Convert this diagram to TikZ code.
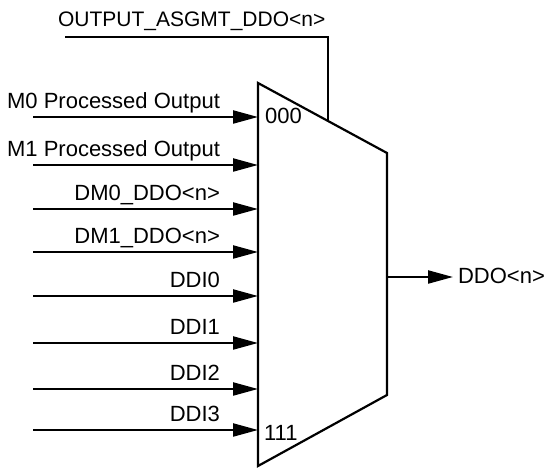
\documentclass[tikz,border=0pt]{standalone}
\usepackage{fontspec}
\setmainfont{Liberation Sans}
\usetikzlibrary{arrows.meta,calc}
\begin{document}
\begin{tikzpicture}[x=1pt,y=-1pt, line width=2.2pt,
  lbl/.style={font=\fontsize{22}{26}\selectfont, inner sep=0pt},
  sig/.style={-{Triangle[length=25pt,width=13pt]}}]
\useasboundingbox (0,0) rectangle (550,468);
% mux body
\coordinate (tl) at (258,83);
\coordinate (tr) at (387,153);
\coordinate (br) at (387,395);
\coordinate (bl) at (258,466);
\draw[line join=miter] (tl) -- (tr) -- (br) -- (bl) -- cycle;
\node[lbl, anchor=base west] (s0) at (264,124) {000};
\node[lbl, anchor=base west] (s7) at (263,441) {111};
% select line
\coordinate (c0) at (65,37);
\coordinate (c1) at (328,37);
\coordinate (cj) at ($(tl)!0.5426!(tr)$);
\draw (c0) -- (c1) -- (c1 |- cj);
\node[lbl, font=\fontsize{21}{26}\selectfont, anchor=base west] (sel) at (57,27) {OUTPUT\_ASGMT\_DDO<n>};
% inputs
\foreach \y/\t/\n in {117/M0 Processed Output/a,165/M1 Processed Output/b,209/DM0\_DDO<n>/c,252/DM1\_DDO<n>/d,296/DDI0/e,343/DDI1/f,389/DDI2/g,430/DDI3/h}{
  \coordinate (in\n) at (33,\y);
  \coordinate (mx\n) at (258,\y);
  \draw[sig] (in\n) -- (mx\n);
  \node[lbl, anchor=base east] (l\n) at (221,\y-8) {\t};
}
% output
\coordinate (o0) at (387,277);
\coordinate (o1) at (453,277);
\draw[sig] (o0) -- (o1);
\node[lbl, anchor=base west] (out) at (457,284) {DDO<n>};
\end{tikzpicture}
\end{document}
